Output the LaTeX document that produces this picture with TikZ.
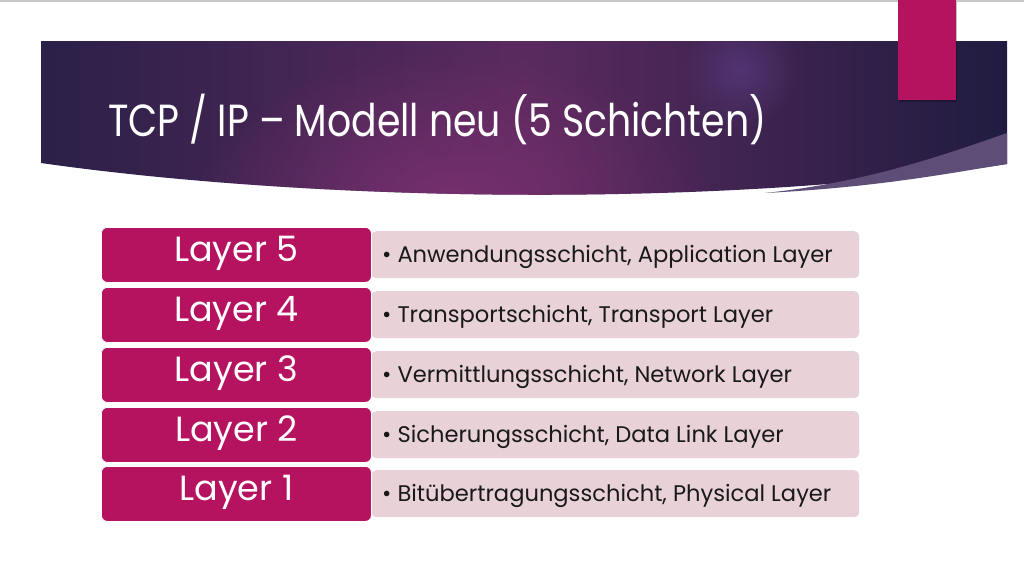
\documentclass[tikz,border=0pt]{standalone}
\usepackage{fontspec}
\setmainfont{Poppins}
\usetikzlibrary{positioning,fadings}
\definecolor{magentaL}{HTML}{B5135F}
\definecolor{pinkL}{HTML}{E8D2D8}
\definecolor{bannerL}{HTML}{2B2048}
\definecolor{bannerM}{HTML}{5A2A5E}
\definecolor{bannerR}{HTML}{201C40}
\definecolor{glowC}{HTML}{7A3070}
\definecolor{spotC}{HTML}{5A3A80}
\definecolor{wedgeC}{HTML}{5D4D77}
\definecolor{rulegray}{HTML}{C8C8C8}
\tikzfading[name=softfade, inner color=transparent!0, outer color=transparent!100]
\tikzset{
  layerbox/.style={fill=magentaL, draw=white, line width=0.8pt, rounded corners=6pt,
    minimum width=270pt, minimum height=55pt, inner sep=0pt, anchor=north west},
  layertext/.style={text=white, font=\fontsize{35}{38}\selectfont, anchor=base, inner sep=0pt},
  descbox/.style={fill=pinkL, rounded corners=5pt, minimum width=488pt, minimum height=47pt,
    inner sep=0pt, anchor=north west},
  desctext/.style={font=\fontsize{22.6}{26}\selectfont, text=black!90, anchor=base west, inner sep=0pt}
}
\begin{document}
\begin{tikzpicture}[x=1pt,y=-1pt]
\useasboundingbox (0,0) rectangle (1024,579);
\fill[white] (0,0) rectangle (1024,579);
\fill[rulegray] (0,0) rectangle (1024,2);
% banner
\begin{scope}
\path[clip] (41,41) -- (1007,41) -- (1007,164) .. controls (700,210) and (300,200) .. (41,163) -- cycle;
\shade[left color=bannerL, right color=bannerR, middle color=bannerM] (41,41) rectangle (1007,210);
\fill[glowC, path fading=softfade, opacity=0.9] (450,200) ellipse (260 and 150);
\fill[spotC, path fading=softfade, opacity=0.7] (740,70) circle (60);
\end{scope}
\fill[wedgeC] (1007,133) .. controls (930,160) and (860,183) .. (765,193)
  .. controls (880,187) and (950,173) .. (1007,164) -- cycle;
% tab
\fill[black, opacity=0.25] (899,2) rectangle (957,102);
\fill[magentaL] (898,0) rectangle (956,100);
\node[anchor=base west, text=white, inner sep=0pt, font=\fontsize{45}{50}\selectfont]
  (title) at (108,136) {\scalebox{0.84}[1]{TCP / IP – Modell neu (5 Schichten)}};
% layers
\foreach \n/\y/\t in {5/227/{Anwendungsschicht, Application Layer},
                      4/287/{Transportschicht, Transport Layer},
                      3/347/{Vermittlungsschicht, Network Layer},
                      2/407/{Sicherungsschicht, Data Link Layer},
                      1/466/{Bitübertragungsschicht, Physical Layer}} {
  \node[descbox] (d\n) at (371,\y+4) {};
  \node[layerbox] (l\n) at (101,\y) {};
  \node[layertext] (n\n) at ([yshift=-34pt]l\n.north) {Layer \n};
  \node[desctext] (t\n) at ([xshift=11pt,yshift=-31pt]d\n.north west) {•\hspace{6pt}\t};
}
\end{tikzpicture}
\end{document}
